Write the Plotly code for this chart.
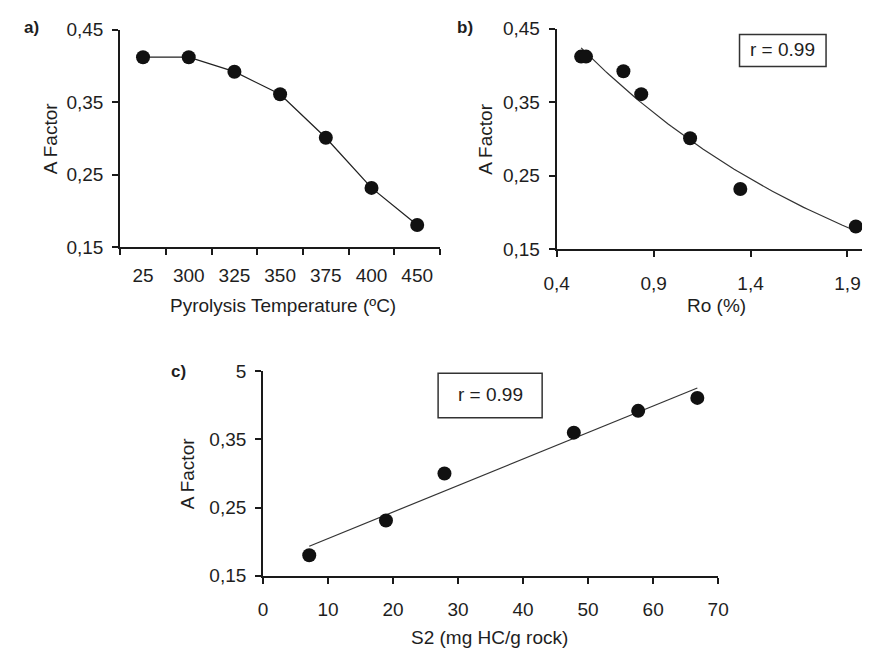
import numpy as np
import plotly.graph_objects as go

# page body has an 8px default margin; figure is sized to fill the rest of the window
OFF = 8
W, H = 874 - OFF, 666 - OFF

# ---- data ----
temp_labels = ["25", "300", "325", "350", "375", "400", "450"]
a_factor = [0.412, 0.412, 0.392, 0.361, 0.301, 0.232, 0.181]

ro_values = [0.526, 0.551, 0.744, 0.836, 1.088, 1.347, 1.943]
a_factor_ro = [0.412, 0.412, 0.392, 0.361, 0.301, 0.232, 0.181]

s2_values = [7.1, 18.9, 27.9, 47.8, 57.7, 66.8]
a_factor_s2 = [0.180, 0.231, 0.300, 0.360, 0.392, 0.411]

y_tickvals = [0.15, 0.25, 0.35, 0.45]
y_ticktext = ["0,15", "0,25", "0,35", "0,45"]
y_ticktext_c = ["0,15", "0,25", "0,35", "5"]
ro_tickvals = [0.4, 0.9, 1.4, 1.9]
ro_ticktext = ["0,4", "0,9", "1,4", "1,9"]
s2_tickvals = [0, 10, 20, 30, 40, 50, 60, 70]

# ---- fits ----
bexp, lna = np.polyfit(np.array(ro_values), np.log(np.array(a_factor_ro)), 1)
ro_fit_x = np.linspace(min(ro_values), max(ro_values), 80)
ro_fit_y = np.exp(lna + bexp * ro_fit_x)

m, c = np.polyfit(np.array(s2_values), np.array(a_factor_s2), 1)
s2_fit_x = np.array([min(s2_values), max(s2_values)])
s2_fit_y = m * s2_fit_x + c

def px(x):
    return (x - OFF) / W

def py(y):
    return 1 - (y - OFF) / H

FONT = "Liberation Sans, Arial, sans-serif"
TXT = "#1e1e1e"
MK = dict(color="#111111", size=14)

fig = go.Figure()
fig.add_trace(go.Scatter(x=temp_labels, y=a_factor, mode="lines+markers",
                         line=dict(color="#222222", width=1.3), marker=MK,
                         xaxis="x", yaxis="y", showlegend=False))
fig.add_trace(go.Scatter(x=ro_fit_x, y=ro_fit_y, mode="lines",
                         line=dict(color="#333333", width=1.2),
                         xaxis="x2", yaxis="y2", showlegend=False))
fig.add_trace(go.Scatter(x=ro_values, y=a_factor_ro, mode="markers", marker=MK,
                         xaxis="x2", yaxis="y2", showlegend=False))
fig.add_trace(go.Scatter(x=s2_fit_x, y=s2_fit_y, mode="lines",
                         line=dict(color="#333333", width=1.2),
                         xaxis="x3", yaxis="y3", showlegend=False))
fig.add_trace(go.Scatter(x=s2_values, y=a_factor_s2, mode="markers", marker=MK,
                         xaxis="x3", yaxis="y3", showlegend=False))

ax_common = dict(showline=True, linecolor="#1a1a1a", linewidth=2, ticks="outside",
                 ticklen=6, tickwidth=2, tickcolor="#1a1a1a", showgrid=False,
                 zeroline=False, tickfont=dict(family=FONT, size=19, color=TXT))
xa = dict(ax_common, ticklabelstandoff=10)
ya = dict(ax_common, ticklabelstandoff=5)

fig.update_layout(
    width=W, height=H, margin=dict(l=0, r=0, t=0, b=0),
    paper_bgcolor="white", plot_bgcolor="white", showlegend=False,
    xaxis=dict(xa, type="category", range=[-0.5, 6.5], tickson="boundaries",
               domain=[px(110), px(439)], anchor="y"),
    yaxis=dict(ya, range=[0.15, 0.45], tickvals=y_tickvals, ticktext=y_ticktext,
               domain=[py(245), py(20)], anchor="x"),
    xaxis2=dict(xa, range=[0.4, 1.975], tickvals=ro_tickvals, ticktext=ro_ticktext,
                domain=[px(559), px(873)], anchor="y2"),
    yaxis2=dict(ya, range=[0.15, 0.45], tickvals=y_tickvals, ticktext=y_ticktext,
                domain=[py(247), py(19)], anchor="x2"),
    xaxis3=dict(xa, range=[0, 70], tickvals=s2_tickvals,
                domain=[px(257), px(725)], anchor="y3"),
    yaxis3=dict(ya, range=[0.15, 0.45], tickvals=y_tickvals, ticktext=y_ticktext_c,
                domain=[py(584), py(373)], anchor="x3"),
)

def ann(text, x, y, size=19, bold=False, angle=0):
    fig.add_annotation(text=f"<b>{text}</b>" if bold else text, x=px(x), y=py(y),
                       xref="paper", yref="paper", showarrow=False, textangle=angle,
                       xanchor="center", yanchor="middle",
                       font=dict(family=FONT, size=size, color=TXT))

ann("a)", 19, 18, size=17, bold=True)
ann("b)", 465, 18, size=17, bold=True)
ann("c)", 170, 373, size=17, bold=True)
ann("A Factor", 38, 133, angle=-90)
ann("A Factor", 485, 133, angle=-90)
ann("A Factor", 180, 479, angle=-90)
ann("Pyrolysis Temperature (ºC)", 277, 305)
ann("Ro (%)", 723, 305)
ann("S2 (mg HC/g rock)", 490, 648)

# r boxes
for (x0, x1, y0, y1) in [(747, 836, 25, 58), (437, 544, 375, 421)]:
    fig.add_shape(type="rect", xref="paper", yref="paper",
                  x0=px(x0), x1=px(x1), y0=py(y1), y1=py(y0),
                  line=dict(color="#333333", width=1.5), fillcolor="rgba(0,0,0,0)")
    ann("r = 0.99", (x0 + x1) / 2, (y0 + y1) / 2 - 1)

fig.write_html("out.html")
